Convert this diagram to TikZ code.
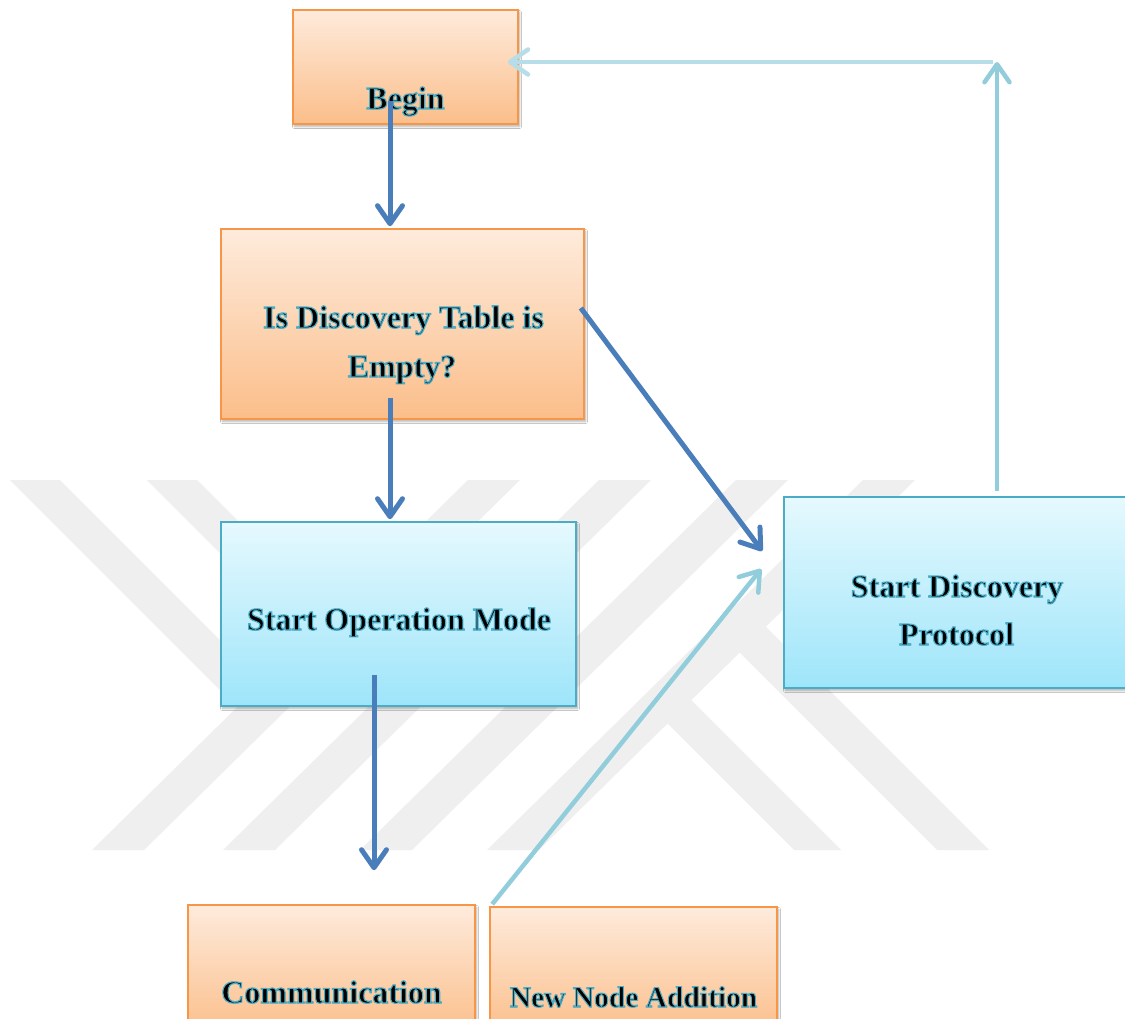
\documentclass[tikz,border=0pt]{standalone}
\usepackage{fontspec}
\setmainfont{Liberation Serif}
% bold serif whose glyphs are filled and stroked; the stroke gives the teal rim
\newfontfamily\labelfont{Liberation Serif Bold}[FakeBold=3.5]
\usetikzlibrary{arrows.meta,shadows.blur}

\definecolor{wmark}{RGB}{239,239,239}
\definecolor{orgTop}{RGB}{254,235,220}
\definecolor{orgBot}{RGB}{251,190,138}
\definecolor{orgLine}{RGB}{247,150,70}
\definecolor{bluTop}{RGB}{230,249,254}
\definecolor{bluBot}{RGB}{158,229,250}
\definecolor{bluLine}{RGB}{75,172,198}
\definecolor{flowDark}{RGB}{74,126,187}
\definecolor{flowLight}{RGB}{146,205,220}
\definecolor{flowPale}{RGB}{183,221,232}

% black fill, teal stroke for the label glyphs
\newcommand\halotext[1]{%
  \special{pdf:bcolor [0 0 0] [0.294 0.675 0.776]}#1\special{pdf:ecolor}}

\tikzset{
  box/.style={rectangle, inner sep=0pt, line width=1.6pt,
    blur shadow={shadow xshift=1.5pt, shadow yshift=-2.5pt,
      shadow opacity=30, shadow blur steps=6, shadow blur radius=2pt}},
  orangebox/.style={box, draw=orgLine, top color=orgTop, bottom color=orgBot},
  bluebox/.style={box, draw=bluLine, top color=bluTop, bottom color=bluBot},
  lbl/.style={anchor=base, inner sep=0pt, font=\labelfont\fontsize{32}{40}\selectfont},
  lblsmall/.style={lbl, font=\labelfont\fontsize{29.5}{36}\selectfont},
  flowhead/.style={-{Straight Barb[length=18pt,width=25pt,round]}},
  flowdark/.style={flowhead, draw=flowDark, line width=5pt},
  flowlight/.style={flowhead, draw=flowLight, line width=4.5pt},
  flowpale/.style={flowhead, draw=flowPale, line width=4.5pt},
  band/.style={fill=wmark}
}

\begin{document}
\begin{tikzpicture}[x=1pt, y=-1pt]
  \useasboundingbox (0,0) rectangle (1125,1019);
  \fill[white] (0,0) rectangle (1125,1019);
  \clip (0,0) rectangle (1125,1019);

  % background emblem: parallel diagonal bands
  \foreach \b in {92,223,360,487}
    \fill[band] (\b,850) -- (\b+52,850) -- (\b+428,480) -- (\b+376,480) -- cycle;
  \fill[band] (10,480) -- (60,480) -- (275.2,695.2) -- (250,720) -- cycle;
  \fill[band] (147,480) -- (197,480) -- (344.3,627.3) -- (319.1,652.1) -- cycle;
  \fill[band] (794,850) -- (841,850) -- (678.3,687.3) -- (654.6,710.6) -- cycle;
  \fill[band] (937,850) -- (989,850) -- (752.9,613.9) -- (726.7,639.7) -- cycle;

  % boxes
  \node[orangebox, minimum width=225pt, minimum height=114pt] (begin) at (405.5,67) {};
  \node[orangebox, minimum width=363pt, minimum height=190pt] (disc) at (402.5,324) {};
  \node[bluebox, minimum width=355pt, minimum height=184pt] (opmode) at (398.5,614) {};
  \node[bluebox, minimum width=346pt, minimum height=191pt] (proto) at (957,592.5) {};
  \node[orangebox, minimum width=287pt, minimum height=130pt] (comm) at (331.5,970) {};
  \node[orangebox, minimum width=287pt, minimum height=128pt] (newnode) at (633.5,971) {};

  % labels
  \node[lbl] (beginText) at (405.5,109) {\halotext{Begin}};
  \node[lbl] (discTextA) at (403.5,328) {\halotext{Is Discovery Table is}};
  \node[lbl] (discTextB) at (402,377) {\halotext{Empty?}};
  \node[lbl] (opmodeText) at (399,630) {\halotext{Start Operation Mode}};
  \node[lbl] (protoTextA) at (957,597) {\halotext{Start Discovery}};
  \node[lbl] (protoTextB) at (956.5,645) {\halotext{Protocol}};
  \node[lbl] (commText) at (331.5,1003) {\halotext{Communication}};
  \node[lblsmall] (newnodeText) at (633.5,1007) {\halotext{New Node Addition}};

  % connectors
  \coordinate (turn) at (997,62);
  \draw[flowdark] ([xshift=-15.5pt,yshift=24pt]begin.south) -- ([xshift=-12.5pt,yshift=2pt]disc.north);
  \draw[flowdark] ([xshift=-12.5pt,yshift=22pt]disc.south) -- ([xshift=-8.5pt,yshift=2pt]opmode.north);
  \draw[flowdark] ([xshift=-4pt,yshift=16pt]disc.east) -- ([xshift=-21pt,yshift=41.5pt]proto.west);
  \draw[flowdark] ([xshift=-24.5pt,yshift=32pt]opmode.south) -- ([xshift=42.5pt,yshift=34pt]comm.north);
  \draw[flowlight] ([xshift=3pt,yshift=2pt]newnode.north west) -- ([xshift=-22pt,yshift=23.5pt]proto.west);
  \draw[flowlight] ([xshift=40pt,yshift=5pt]proto.north) -- (turn);
  \draw[flowpale] ([xshift=-4pt]turn) -- ([xshift=-11pt,yshift=5pt]begin.east);
\end{tikzpicture}
\end{document}
